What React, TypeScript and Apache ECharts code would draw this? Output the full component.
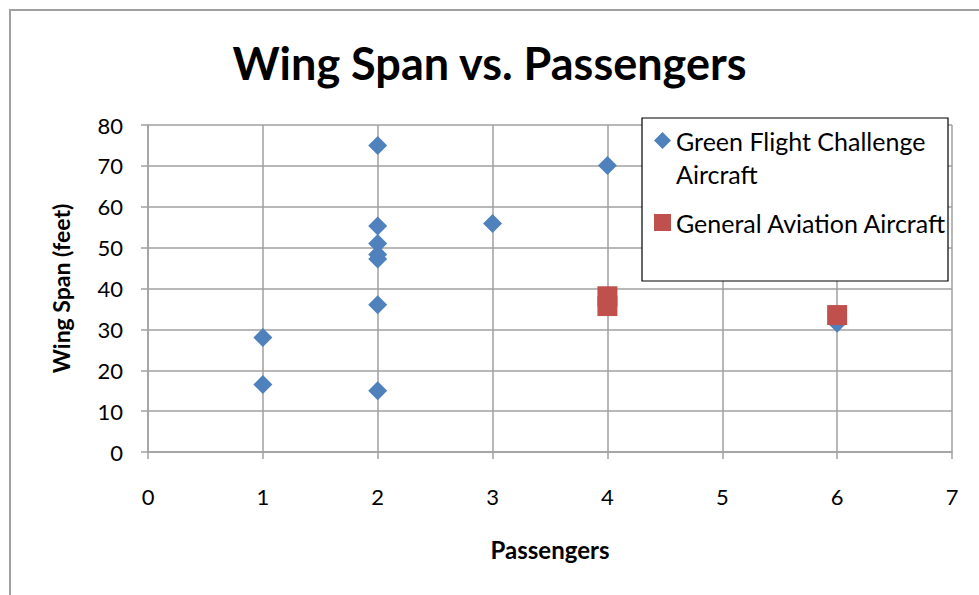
import React, { useEffect, useRef } from "react";
import * as echarts from "echarts";

const titleText = "Wing Span vs. Passengers";
const xAxisTitle = "Passengers";
const yAxisTitle = "Wing Span (feet)";
const seriesNames = ["Green Flight Challenge Aircraft", "General Aviation Aircraft"];

const greenPassengers = [1, 1, 2, 2, 2, 2, 2, 2, 2, 3, 4, 6];
const greenWingSpan = [28, 16.5, 75, 55.3, 51, 48.3, 47.2, 36, 15, 55.9, 70.1, 31.5];

const gaPassengers = [4, 4, 6];
const gaWingSpan = [38.1, 35.7, 33.5];

const FONT = "Lato, 'Open Sans', sans-serif";

export default function App() {
  const ref = useRef<HTMLDivElement>(null);
  useEffect(() => {
    if (!ref.current) return;
    const chart = echarts.init(ref.current, null, { renderer: "svg" });
    const green = greenPassengers.map((x, i) => [x, greenWingSpan[i]]);
    const ga = gaPassengers.map((x, i) => [x, gaWingSpan[i]]);
    chart.setOption({
      animation: false,
      backgroundColor: "#ffffff",
      title: {
        text: titleText,
        left: "center",
        top: 35,
        textStyle: { fontFamily: FONT, fontSize: 45, fontWeight: "bold", color: "#000" },
      },
      grid: { left: 148, right: 27, top: 125, bottom: 143, containLabel: false },
      graphic: [
        {
          type: "rect",
          shape: { x: 10, y: 10, width: 1000, height: 1000 },
          style: { fill: "none", stroke: "#a0a0a0", lineWidth: 2 },
          z: 1,
        },
        {
          type: "rect",
          shape: { x: 642, y: 118, width: 306, height: 163 },
          style: { fill: "#ffffff", stroke: "#000000", lineWidth: 1.2 },
          z: 3,
        },
      ],
      legend: [
        {
          data: [{ name: seriesNames[0], icon: "diamond" }],
          left: 654,
          top: 91,
          padding: 0,
          itemWidth: 17,
          itemHeight: 17,
          itemGap: 0,
          z: 4,
          formatter: () => "\nGreen Flight Challenge\nAircraft",
          textStyle: { fontFamily: FONT, fontSize: 25, color: "#000", lineHeight: 33 },
        },
        {
          data: [{ name: seriesNames[1], icon: "rect" }],
          left: 654,
          top: 210,
          padding: 0,
          itemWidth: 17,
          itemHeight: 17,
          z: 4,
          textStyle: { fontFamily: FONT, fontSize: 25, color: "#000" },
        },
      ],
      xAxis: {
        type: "value",
        min: 0,
        max: 7,
        interval: 1,
        name: xAxisTitle,
        nameLocation: "middle",
        nameGap: 85,
        nameTextStyle: { fontFamily: FONT, fontSize: 24, fontWeight: "bold", color: "#000" },
        axisLine: { show: true, onZero: false, lineStyle: { color: "#a0a0a0", width: 1.5 } },
        axisTick: { show: true, inside: false, length: 7, lineStyle: { color: "#a0a0a0", width: 1.5 } },
        axisLabel: { fontFamily: FONT, fontSize: 22, color: "#000", margin: 33 },
        splitLine: { show: true, lineStyle: { color: "#a0a0a0", width: 1.5 } },
      },
      yAxis: {
        type: "value",
        min: 0,
        max: 80,
        interval: 10,
        name: yAxisTitle,
        nameLocation: "middle",
        nameGap: 76,
        nameRotate: 90,
        nameTextStyle: { fontFamily: FONT, fontSize: 23, fontWeight: "bold", color: "#000" },
        axisLine: { show: true, onZero: false, lineStyle: { color: "#a0a0a0", width: 1.5 } },
        axisTick: { show: true, inside: false, length: 7, lineStyle: { color: "#a0a0a0", width: 1.5 } },
        axisLabel: { fontFamily: FONT, fontSize: 22, color: "#000", margin: 25 },
        splitLine: { show: true, lineStyle: { color: "#a0a0a0", width: 1.5 } },
      },
      series: [
        {
          name: seriesNames[0],
          type: "scatter",
          symbol: "diamond",
          symbolSize: 19,
          itemStyle: { color: "#4f81bd", opacity: 1 },
          data: green,
          z: 2,
        },
        {
          name: seriesNames[1],
          type: "scatter",
          symbol: "rect",
          symbolSize: 20,
          itemStyle: { color: "#c0504d", opacity: 1 },
          data: ga,
          z: 2,
        },
      ],
    });
    return () => chart.dispose();
  }, []);
  return (
    <div
      ref={ref}
      style={{ position: "fixed", left: 0, top: 0, width: 979, height: 595 }}
    />
  );
}
